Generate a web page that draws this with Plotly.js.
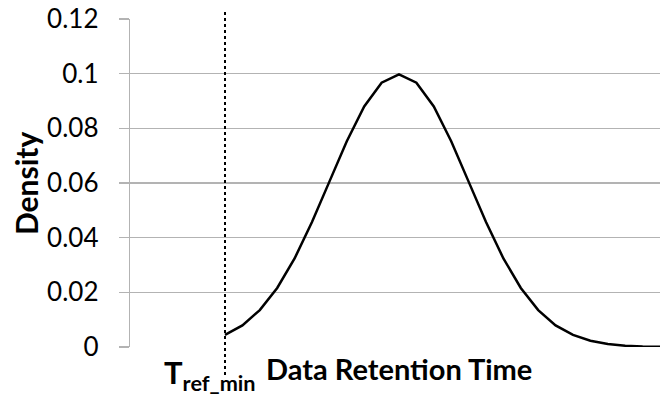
<!DOCTYPE html>
<html>
<head>
<meta charset="utf-8">
<script src="https://cdn.plot.ly/plotly-3.0.1.min.js"></script>
<style>html,body{margin:0;padding:0;background:#fff;}#chart{width:660px;height:398px;}</style>
</head>
<body>
<div id="chart"></div>
<script>
// Time steps (arbitrary units) from T_ref_min onward
var timeSteps = [0,1,2,3,4,5,6,7,8,9,10,11,12,13,14,15,16,17,18,19,20,21,22,23,24,25];
// Density values
var density = [0.0044,0.0079,0.0135,0.0216,0.0324,0.0457,0.0605,0.0753,0.0880,0.0967,0.0997,
               0.0967,0.0880,0.0753,0.0605,0.0457,0.0324,0.0216,0.0135,0.0079,0.0044,0.0023,
               0.0011,0.0005,0.0002,0.0001];
var yTickVals = [0,0.02,0.04,0.06,0.08,0.1,0.12];
var yTickText = ['0','0.02','0.04','0.06','0.08','0.1','0.12'];
var tRefMin = 0;

var font = 'Lato, "Open Sans", "DejaVu Sans", sans-serif';

Plotly.newPlot('chart', [{
  x: timeSteps, y: density, type: 'scatter', mode: 'lines',
  line: {color: '#000', width: 2.5}, hoverinfo: 'skip'
}], {
  width: 660, height: 398,
  margin: {l: 130, r: 0, t: 19, b: 51},
  paper_bgcolor: '#fff', plot_bgcolor: '#fff',
  showlegend: false,
  xaxis: {range: [-5.46, 25], showgrid: false, zeroline: false, showticklabels: false, ticks: '', showline: false},
  yaxis: {
    range: [0, 0.12], tickvals: yTickVals, ticktext: yTickText,
    showgrid: true, gridcolor: '#b3b3b3', gridwidth: 1.3, zeroline: false,
    showline: true, linecolor: '#b3b3b3', linewidth: 1.3,
    ticks: 'outside', ticklen: 10, tickcolor: '#b3b3b3', tickwidth: 1.3,
    ticklabelstandoff: 15,
    tickfont: {family: font, size: 26, color: '#000'}
  },
  shapes: [{
    type: 'line', xref: 'x', yref: 'paper', x0: tRefMin, x1: tRefMin, y0: -0.085, y1: 1.021,
    line: {color: '#000', width: 2, dash: 'dot'}
  }],
  annotations: [
    {xref: 'paper', yref: 'paper', x: -0.196, y: 0.5, xanchor: 'center', yanchor: 'middle', textangle: -90,
     text: '<b>Density</b>', showarrow: false, font: {family: font, size: 30, color: '#000'}},
    {xref: 'paper', yref: 'paper', x: 0.508, y: -0.066, xanchor: 'center', yanchor: 'middle',
     text: '<b>Data Retention Time</b>', showarrow: false, font: {family: font, size: 29, color: '#000'}},
    {xref: 'paper', yref: 'paper', x: 0.151, y: -0.085, xanchor: 'center', yanchor: 'middle',
     text: '<b>T<sub>ref_min</sub></b>', showarrow: false, font: {family: font, size: 31, color: '#000'}}
  ]
}, {displayModeBar: false, staticPlot: true});
</script>
</body>
</html>
